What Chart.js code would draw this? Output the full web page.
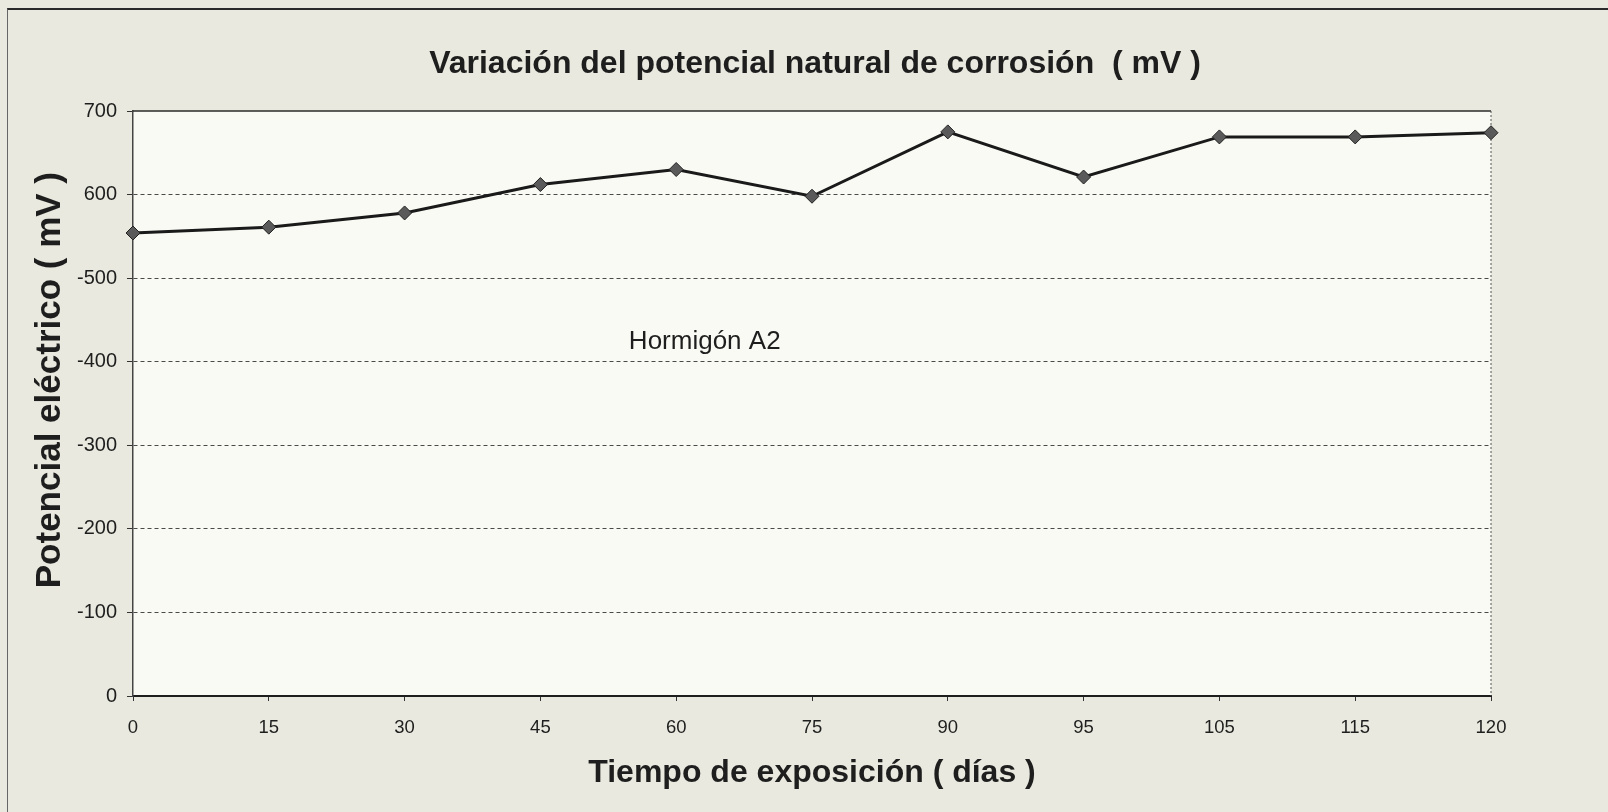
<!DOCTYPE html>
<html lang="es">
<head>
<meta charset="utf-8">
<title>Potencial natural de corrosión</title>
<script src="https://cdn.jsdelivr.net/npm/chart.js@4.4.1/dist/chart.umd.min.js"></script>
<style>
  html, body { margin: 0; padding: 0; background: #e9e9df; }
  #wrap {
    position: relative;
    width: 1608px;
    height: 812px;
    overflow: hidden;
  }
  #frame {
    position: absolute;
    left: 7px; top: 8px; right: 0; bottom: 0;
    border-top: 2px solid #2a2a2a;
    border-left: 1px solid #666;
    pointer-events: none;
  }
  canvas { display: block; }
</style>
</head>
<body>
<div id="wrap">
  <canvas id="potencialChart" width="1608" height="812"></canvas>
  <div id="frame"></div>
</div>
<script>
const FONT = '"Liberation Sans", Arial, sans-serif';
const INK = "#1e1e1e";

// Días de exposición (eje de categorías)
const dias = ["0", "15", "30", "45", "60", "75", "90", "95", "105", "115", "120"];

// Potencial medido, mV
const potencial = [554, 561, 578, 612, 630, 598, 675, 621, 669, 669, 674];

// Etiquetas del eje vertical, de 0 a 700
const yTickLabels = ["0", "-100", "-200", "-300", "-400", "-500", "600", "700"];

const serieNombre = "Hormigón A2";
const titulo = "Variación del potencial natural de corrosión  ( mV )";
const tituloX = "Tiempo de exposición ( días )";
const tituloY = "Potencial eléctrico ( mV )";

// fondo del gráfico y del área de trazado
const backgroundPlugin = {
    id: "backgroundPlugin",
    beforeDraw(chart) {
        const { ctx, chartArea: a } = chart;
        ctx.save();
        ctx.fillStyle = "#e9e9df";
        ctx.fillRect(0, 0, chart.width, chart.height);
        ctx.fillStyle = "#fafaf4";
        ctx.fillRect(a.left, a.top, a.right - a.left, a.bottom - a.top);
        ctx.restore();
    }
};

// título, borde superior sólido, borde derecho punteado, rótulo de la serie y título vertical
const extrasPlugin = {
    id: "extrasPlugin",
    afterDraw(chart) {
        const { ctx, chartArea: a, scales } = chart;
        ctx.save();

        ctx.fillStyle = INK;
        ctx.textAlign = "center";
        ctx.textBaseline = "middle";
        ctx.font = "bold 32px " + FONT;
        ctx.fillText(titulo, (a.left + a.right) / 2 + 3, a.top - 47);

        ctx.strokeStyle = "#2a2a2a";
        ctx.lineWidth = 1.5;
        ctx.beginPath();
        ctx.moveTo(a.left, a.top);
        ctx.lineTo(a.right, a.top);
        ctx.stroke();

        ctx.strokeStyle = "#555";
        ctx.lineWidth = 1;
        ctx.setLineDash([2, 2]);
        ctx.beginPath();
        ctx.moveTo(a.right, a.top);
        ctx.lineTo(a.right, a.bottom);
        ctx.stroke();
        ctx.setLineDash([]);

        // rótulo de la serie, entre los 60 y 75 días
        const x4 = scales.x.getPixelForValue(4);
        const x5 = scales.x.getPixelForValue(5);
        ctx.font = "26px " + FONT;
        ctx.fillText(serieNombre, x4 + (x5 - x4) * 0.21, scales.y.getPixelForValue(424));

        // título del eje Y
        ctx.translate(a.left - 83, a.top + (a.bottom - a.top) * 0.46);
        ctx.rotate(-Math.PI / 2);
        ctx.font = "bold 35px " + FONT;
        ctx.fillText(tituloY, 0, 0);
        ctx.restore();
    }
};

const ctx = document.getElementById("potencialChart").getContext("2d");

const potencialChart = new Chart(ctx, {
    type: "line",
    data: {
        labels: dias,
        datasets: [{
            label: serieNombre,
            data: potencial,
            borderColor: "#1a1a1a",
            borderWidth: 3,
            tension: 0,
            pointStyle: "rectRot",
            pointRadius: 7,
            pointBackgroundColor: "#5a5a5a",
            pointBorderColor: "#222",
            pointBorderWidth: 1,
            clip: false
        }]
    },
    options: {
        responsive: false,
        animation: false,
        layout: { padding: { left: 0, right: 117, top: 111, bottom: 0 } },
        plugins: {
            legend: { display: false },
            tooltip: { enabled: false },
            title: { display: false }
        },
        scales: {
            x: {
                type: "category",
                offset: false,
                grid: {
                    display: true,
                    drawOnChartArea: false,
                    tickLength: 5,
                    tickColor: "#333",
                    tickWidth: 1
                },
                border: { display: true, color: "#1e1e1e", width: 2 },
                ticks: {
                    color: INK,
                    padding: 16,
                    maxRotation: 0,
                    autoSkip: false,
                    font: { family: FONT, size: 18.5 }
                },
                title: {
                    display: true,
                    text: tituloX,
                    color: INK,
                    font: { family: FONT, size: 32, weight: "bold", lineHeight: 1.2 },
                    padding: { top: 0, bottom: 20 }
                },
                afterFit(scale) { scale.height = 116; }
            },
            y: {
                min: 0,
                max: 700,
                ticks: {
                    stepSize: 100,
                    color: INK,
                    padding: 10,
                    font: { family: FONT, size: 20 },
                    callback: (value, index) => yTickLabels[index]
                },
                grid: {
                    color: (c) => (c.tick && (c.tick.value === 0 || c.tick.value === 700)) ? "rgba(0,0,0,0)" : "#4a4a4a",
                    lineWidth: 1,
                    tickLength: 6,
                    tickColor: "#333",
                    tickBorderDash: []
                },
                border: { display: true, color: "#444", width: 1.5, dash: [4, 3] },
                afterFit(scale) { scale.width = 133; }
            }
        }
    },
    plugins: [backgroundPlugin, extrasPlugin]
});
</script>
</body>
</html>
